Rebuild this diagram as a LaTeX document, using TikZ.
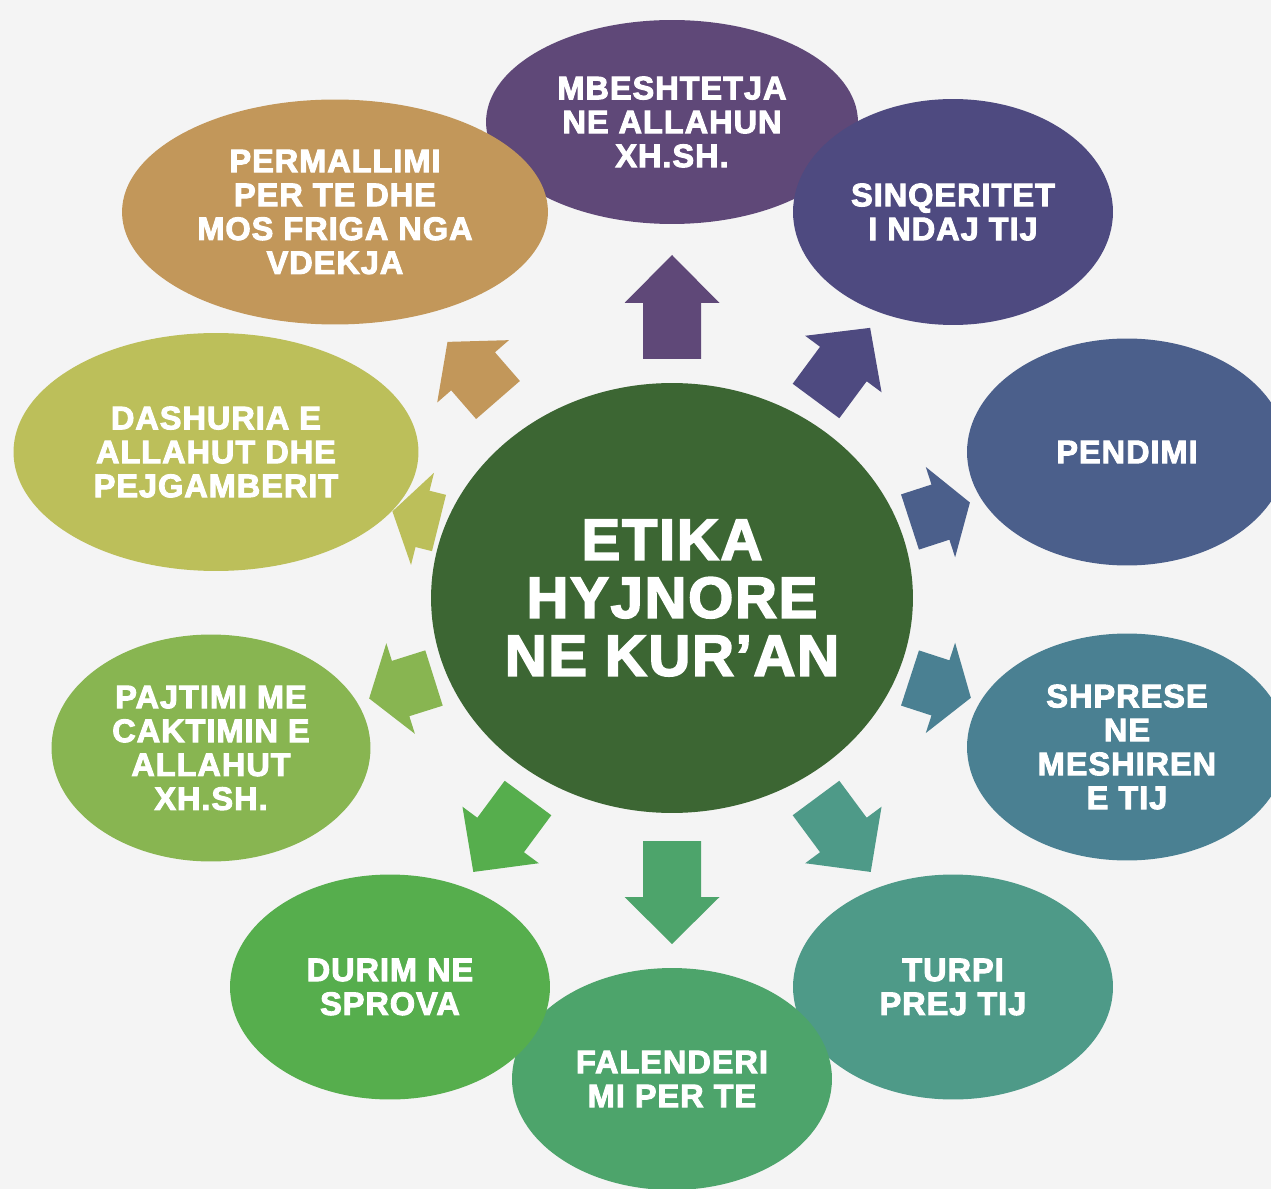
\documentclass[tikz,border=0pt]{standalone}
\usepackage{fontspec}
\newfontfamily\heavyfont[LetterSpace=3,FakeBold=3]{Liberation Sans Bold}
\usetikzlibrary{shapes.geometric}

\definecolor{paper}{HTML}{F4F4F4}
\definecolor{hubgreen}{HTML}{3C6633}
\definecolor{cpurple}{HTML}{5F4878}
\definecolor{cindigo}{HTML}{4E4A80}
\definecolor{cslate}{HTML}{4B5F8B}
\definecolor{cteal}{HTML}{4A8092}
\definecolor{cseagreen}{HTML}{4E9A88}
\definecolor{cgreen}{HTML}{4DA46B}
\definecolor{cleaf}{HTML}{56AE4D}
\definecolor{clime}{HTML}{88B551}
\definecolor{colive}{HTML}{BCBF5A}
\definecolor{ctan}{HTML}{C2975A}

\tikzstyle{bubble} = [ellipse,inner sep=0pt,text=white,align=center,
                      font=\heavyfont\fontsize{18.5}{19.3}\selectfont]
\tikzstyle{hub}    = [ellipse,inner sep=0pt,text=white,align=center,fill=hubgreen,
                      minimum width=9.64cm,minimum height=8.6cm,
                      font=\heavyfont\fontsize{33}{33}\selectfont]

% tail x, tail y, angle, length, head length, colour
\newcommand{\blockarrow}[6]{%
  \fill[#6,shift={(#1,#2)},rotate=#3]
    (0,-29) -- ({#4-#5},-29) -- ({#4-#5},-47.5) -- (#4,0)
    -- ({#4-#5},47.5) -- ({#4-#5},29) -- (0,29) -- cycle;}

\begin{document}
\begin{tikzpicture}[x=0.02cm,y=-0.02cm]
  \useasboundingbox (0,0) rectangle (1271,1189);
  \clip (0,0) rectangle (1271,1189);
  \fill[paper] (0,0) rectangle (1271,1189);

  \blockarrow{672}{359}{90}{104}{48}{cpurple}
  \blockarrow{816}{401}{53.5}{91}{45}{cindigo}
  \blockarrow{910}{522}{18}{63}{31}{cslate}
  \blockarrow{910}{678}{-18}{64}{32}{cteal}
  \blockarrow{816}{798}{-53.5}{92}{46}{cseagreen}
  \blockarrow{672}{841}{-90}{103}{47}{cgreen}
  \blockarrow{528}{798}{-126.5}{92}{46}{cleaf}
  \blockarrow{434}{678}{197.5}{68}{33}{clime}
  \blockarrow{439}{523}{166}{48}{31}{colive}
  \blockarrow{498}{400}{131}{77}{39}{ctan}

  \node[bubble,fill=cpurple,minimum width=7.44cm,minimum height=4.08cm]
    at (672,122) (trust) {MBESHTETJA\\NE ALLAHUN\\XH.SH.};
  \node[bubble,fill=cindigo,minimum width=6.4cm,minimum height=4.52cm]
    at (953,212) (sincere) {SINQERITET\\I NDAJ TIJ};
  \node[bubble,fill=cslate,minimum width=6.4cm,minimum height=4.54cm]
    at (1127,452) (repent) {PENDIMI};
  \node[bubble,fill=cteal,minimum width=6.4cm,minimum height=4.54cm]
    at (1127,747) (hope) {SHPRESE\\NE\\MESHIREN\\E TIJ};
  \node[bubble,fill=cseagreen,minimum width=6.4cm,minimum height=4.5cm]
    at (953,987) (shame) {TURPI\\PREJ TIJ};
  \node[bubble,fill=cgreen,minimum width=6.4cm,minimum height=4.44cm]
    at (672,1079) (thanks) {FALENDERI\\MI PER TE};
  \node[bubble,fill=cleaf,minimum width=6.4cm,minimum height=4.5cm]
    at (390,987) (patience) {DURIM NE\\SPROVA};
  \node[bubble,fill=clime,minimum width=6.38cm,minimum height=4.54cm]
    at (211,748) (accept) {PAJTIMI ME\\CAKTIMIN E\\ALLAHUT\\XH.SH.};
  \node[bubble,fill=colive,minimum width=8.1cm,minimum height=4.76cm]
    at (216,452) (love) {DASHURIA E\\ALLAHUT DHE\\PEJGAMBERIT};
  \node[bubble,fill=ctan,minimum width=8.52cm,minimum height=4.5cm]
    at (335,212) (longing) {PERMALLIMI\\PER TE DHE\\MOS FRIGA NGA\\VDEKJA};

  \node[hub] at (672,598) (etika) {ETIKA\\HYJNORE\\NE KUR’AN};
\end{tikzpicture}
\end{document}
